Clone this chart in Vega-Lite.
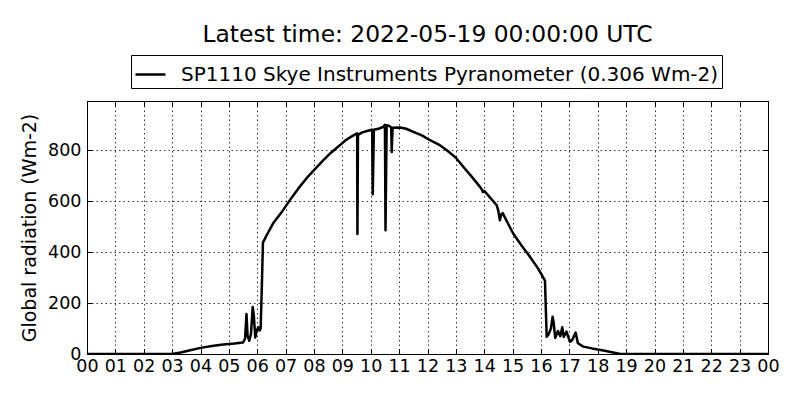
{
  "$schema": "https://vega.github.io/schema/vega-lite/v6.json",
  "width": 681,
  "height": 253,
  "autosize": {"type": "none"},
  "padding": {"left": 87, "top": 101, "right": 32, "bottom": 46},
  "background": "white",
  "title": {
    "text": "Latest time: 2022-05-19 00:00:00 UTC",
    "font": "DejaVu Sans",
    "fontSize": 23.4,
    "fontWeight": "normal",
    "color": "black",
    "anchor": "middle",
    "baseline": "alphabetic",
    "offset": -10.5
  },
  "config": {
    "view": {"stroke": "black", "strokeWidth": 1},
    "axis": {
      "labelFont": "DejaVu Sans",
      "titleFont": "DejaVu Sans",
      "labelColor": "black",
      "titleColor": "black",
      "domain": false,
      "tickColor": "black",
      "tickSize": -5,
      "tickWidth": 1,
      "gridColor": "black",
      "gridDash": [1.5, 3],
      "gridWidth": 0.8,
      "gridOpacity": 1,
      "labelOverlap": false,
      "labelBound": false,
      "labelFlush": false
    }
  },
  "data": {
    "values": [
      {"hour": 0, "radiation": 0},
      {"hour": 1, "radiation": 0},
      {"hour": 2, "radiation": 0},
      {"hour": 3.0, "radiation": 0},
      {"hour": 3.3, "radiation": 6},
      {"hour": 3.6, "radiation": 14},
      {"hour": 4.0, "radiation": 24},
      {"hour": 4.4, "radiation": 31},
      {"hour": 4.8, "radiation": 37},
      {"hour": 5.2, "radiation": 41},
      {"hour": 5.5, "radiation": 45},
      {"hour": 5.57, "radiation": 60},
      {"hour": 5.62, "radiation": 157},
      {"hour": 5.66, "radiation": 70},
      {"hour": 5.72, "radiation": 52},
      {"hour": 5.78, "radiation": 80},
      {"hour": 5.84, "radiation": 184},
      {"hour": 5.88, "radiation": 150},
      {"hour": 5.93, "radiation": 65},
      {"hour": 5.98, "radiation": 90},
      {"hour": 6.03, "radiation": 105},
      {"hour": 6.08, "radiation": 92},
      {"hour": 6.12, "radiation": 100},
      {"hour": 6.17, "radiation": 300},
      {"hour": 6.2, "radiation": 437},
      {"hour": 6.35, "radiation": 470},
      {"hour": 6.56, "radiation": 513},
      {"hour": 6.85, "radiation": 555},
      {"hour": 7.15, "radiation": 604},
      {"hour": 7.45, "radiation": 650},
      {"hour": 7.74, "radiation": 690},
      {"hour": 8.0, "radiation": 722},
      {"hour": 8.2, "radiation": 745},
      {"hour": 8.33, "radiation": 761},
      {"hour": 8.6, "radiation": 790},
      {"hour": 8.92, "radiation": 820},
      {"hour": 9.1, "radiation": 838},
      {"hour": 9.3, "radiation": 852},
      {"hour": 9.5, "radiation": 865},
      {"hour": 9.52, "radiation": 866},
      {"hour": 9.53, "radiation": 471},
      {"hour": 9.55, "radiation": 860},
      {"hour": 9.7, "radiation": 870},
      {"hour": 9.9, "radiation": 876},
      {"hour": 10.05, "radiation": 880},
      {"hour": 10.07, "radiation": 627},
      {"hour": 10.11, "radiation": 880},
      {"hour": 10.3, "radiation": 885},
      {"hour": 10.45, "radiation": 892},
      {"hour": 10.5, "radiation": 900},
      {"hour": 10.52, "radiation": 486},
      {"hour": 10.56, "radiation": 898},
      {"hour": 10.65, "radiation": 895},
      {"hour": 10.72, "radiation": 890},
      {"hour": 10.74, "radiation": 793},
      {"hour": 10.77, "radiation": 888},
      {"hour": 11.03, "radiation": 889},
      {"hour": 11.25, "radiation": 884},
      {"hour": 11.5, "radiation": 872},
      {"hour": 11.8, "radiation": 858},
      {"hour": 12.09, "radiation": 839},
      {"hour": 12.4, "radiation": 822},
      {"hour": 12.68, "radiation": 800},
      {"hour": 13.0, "radiation": 770},
      {"hour": 13.26, "radiation": 735},
      {"hour": 13.55, "radiation": 697},
      {"hour": 13.85, "radiation": 656},
      {"hour": 13.92, "radiation": 645},
      {"hour": 13.95, "radiation": 636},
      {"hour": 14.0, "radiation": 640},
      {"hour": 14.2, "radiation": 615},
      {"hour": 14.44, "radiation": 584},
      {"hour": 14.5, "radiation": 560},
      {"hour": 14.55, "radiation": 525},
      {"hour": 14.6, "radiation": 548},
      {"hour": 14.65, "radiation": 553},
      {"hour": 14.8, "radiation": 520},
      {"hour": 15.02, "radiation": 473},
      {"hour": 15.3, "radiation": 428},
      {"hour": 15.61, "radiation": 382},
      {"hour": 15.9, "radiation": 335},
      {"hour": 16.14, "radiation": 288},
      {"hour": 16.2, "radiation": 68},
      {"hour": 16.27, "radiation": 78},
      {"hour": 16.35, "radiation": 100},
      {"hour": 16.41, "radiation": 146},
      {"hour": 16.45, "radiation": 120},
      {"hour": 16.5, "radiation": 63},
      {"hour": 16.6, "radiation": 90},
      {"hour": 16.68, "radiation": 70},
      {"hour": 16.75, "radiation": 105},
      {"hour": 16.8, "radiation": 67},
      {"hour": 16.9, "radiation": 88},
      {"hour": 17.02, "radiation": 48},
      {"hour": 17.1, "radiation": 55},
      {"hour": 17.22, "radiation": 84},
      {"hour": 17.3, "radiation": 42},
      {"hour": 17.49, "radiation": 29},
      {"hour": 17.8, "radiation": 22},
      {"hour": 18.2, "radiation": 14},
      {"hour": 18.5, "radiation": 7},
      {"hour": 18.8, "radiation": 0},
      {"hour": 19, "radiation": 0},
      {"hour": 24, "radiation": 0}
    ]
  },
  "layer": [
    {
      "mark": {"type": "line", "strokeWidth": 2.5, "strokeJoin": "round", "clip": true},
      "encoding": {
        "x": {
          "field": "hour",
          "type": "quantitative",
          "scale": {"domain": [0, 24], "nice": false, "zero": false},
          "axis": {
            "orient": "bottom",
            "title": null,
            "values": [0,1,2,3,4,5,6,7,8,9,10,11,12,13,14,15,16,17,18,19,20,21,22,23,24],
            "labelExpr": "datum.value == 24 ? '00' : (datum.value < 10 ? '0' + datum.value : '' + datum.value)",
            "labelFontSize": 17.5,
            "labelPadding": 8,
            "grid": true
          }
        },
        "y": {
          "field": "radiation",
          "type": "quantitative",
          "scale": {"domain": [0, 993], "nice": false},
          "axis": {
            "orient": "left",
            "title": "Global radiation (Wm-2)",
            "titleFontSize": 19,
            "titleFontWeight": "normal",
            "titlePadding": 8,
            "values": [0, 200, 400, 600, 800],
            "labelFontSize": 17.5,
            "labelPadding": 11,
            "grid": true
          }
        },
        "color": {
          "datum": "SP1110 Skye Instruments Pyranometer (0.306 Wm-2)",
          "scale": {"range": ["black"]},
          "legend": {
            "title": null,
            "orient": "none",
            "legendX": 44,
            "legendY": -46,
            "strokeColor": "black",
            "fillColor": "white",
            "padding": 3,
            "cornerRadius": 0,
            "symbolType": "stroke",
            "symbolSize": 900,
            "symbolStrokeWidth": 2.5,
            "labelOffset": 14,
            "labelFont": "DejaVu Sans",
            "labelFontSize": 20,
            "labelColor": "black",
            "labelLimit": 800
          }
        }
      }
    },
    {
      "mark": {"type": "line", "opacity": 0},
      "encoding": {
        "x": {
          "field": "hour",
          "type": "quantitative",
          "axis": {
            "orient": "top",
            "title": null,
            "labels": false,
            "grid": false,
            "values": [0,1,2,3,4,5,6,7,8,9,10,11,12,13,14,15,16,17,18,19,20,21,22,23,24]
          }
        },
        "y": {
          "field": "radiation",
          "type": "quantitative",
          "axis": {
            "orient": "right",
            "title": null,
            "labels": false,
            "grid": false,
            "values": [0, 200, 400, 600, 800]
          }
        }
      }
    }
  ],
  "resolve": {"axis": {"x": "independent", "y": "independent"}}
}
